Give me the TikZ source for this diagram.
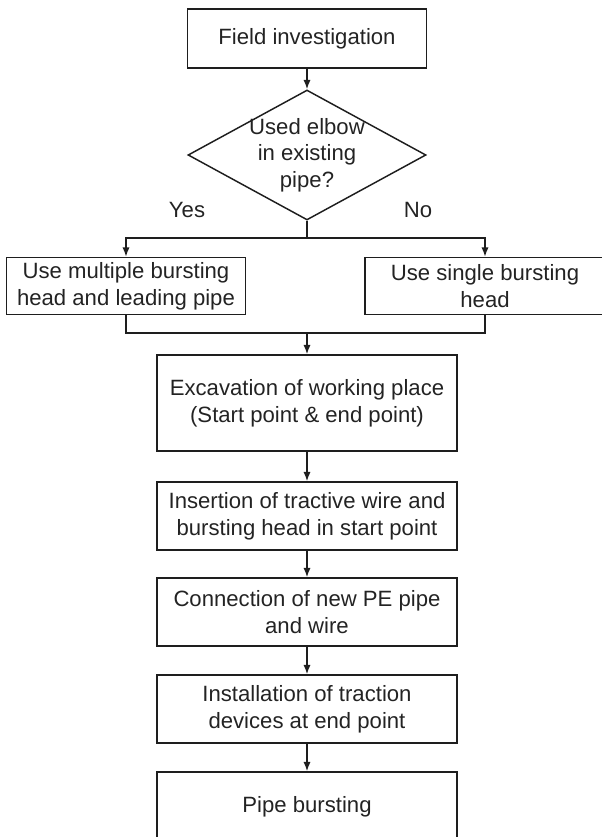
\documentclass[tikz,border=0pt]{standalone}
\usepackage{fontspec}
\setmainfont{Liberation Sans}
\usepackage{tikz}
\usetikzlibrary{arrows.meta,calc,positioning,shapes.geometric}
\definecolor{LineGray}{RGB}{30,30,30}
\definecolor{TextGray}{RGB}{35,35,35}

\begin{document}
\begin{tikzpicture}[>={Latex[length=7pt,width=5.4pt]},x=0.75pt,y=-0.75pt,
  box/.style={draw=LineGray,line width=1.1pt,align=center,text=TextGray,inner sep=2pt,
    font=\fontsize{16.6}{20}\selectfont,minimum width=225pt},
  plain/.style={text=TextGray,align=center,font=\fontsize{16.6}{20}\selectfont},
  link/.style={draw=LineGray,line width=1.1pt}]
\useasboundingbox (0,0) rectangle (601,837);
\node[box,minimum width=179.25pt,minimum height=44.25pt] (fi) at (307,38.5) {Field investigation};
\node[draw=LineGray,line width=1.1pt,diamond,inner sep=0pt,minimum width=178.5pt,minimum height=97.5pt] (dec) at (307,155) {};
\node[plain] (decl) at (307,155) {Used elbow\\in existing\\pipe?};
\node[plain] (yes) at (187,210) {Yes};
\node[plain] (no) at (418,210) {No};
\node[box,minimum width=179.25pt,minimum height=42.75pt] (ml) at (126,286) {Use multiple bursting\\head and leading pipe};
\node[box,minimum width=180pt,minimum height=42.75pt] (sg) at (485,286) {Use single bursting\\head};
\node[box,minimum height=72pt] (exc) at (307,403) {Excavation of working place\\(Start point \& end point)};
\node[box,minimum height=51pt] (ins) at (307,516) {Insertion of tractive wire and\\bursting head in start point};
\node[box,minimum height=51pt] (con) at (307,612) {Connection of new PE pipe\\and wire};
\node[box,minimum height=51pt] (inst) at (307,709) {Installation of traction\\devices at end point};
\node[box,minimum height=52.5pt] (pb) at (307,807) {Pipe bursting};
\coordinate (sp) at (307,238);
\coordinate (mg) at (307,333);
\draw[link,->] (fi) -- (dec);
\draw[link] (dec.south) -- (sp);
\draw[link,->] (sp) -| (ml);
\draw[link,->] (sp) -| (sg);
\draw[link] (ml) |- (mg);
\draw[link] (sg) |- (mg);
\draw[link,->] (mg) -- (exc);
\draw[link,->] (exc) -- (ins);
\draw[link,->] (ins) -- (con);
\draw[link,->] (con) -- (inst);
\draw[link,->] (inst) -- (pb);
\end{tikzpicture}
\end{document}
